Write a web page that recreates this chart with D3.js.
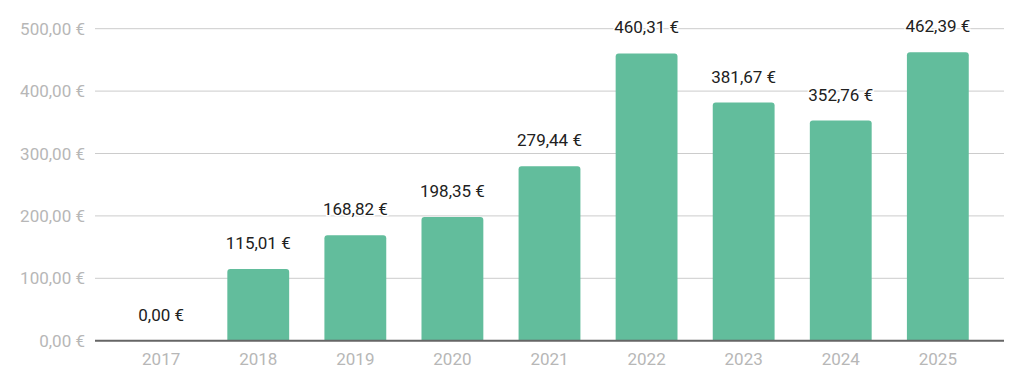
<!DOCTYPE html>
<html><head><meta charset="utf-8">
<script src="https://cdn.jsdelivr.net/npm/d3@7"></script>
<style>html,body{margin:0;padding:0;background:#fff;}svg{display:block;font-family:Roboto,"Noto Sans",sans-serif;}</style>
</head><body><svg id="c" width="1024" height="387"></svg>
<script>
const categories = ["2017","2018","2019","2020","2021","2022","2023","2024","2025"];
const values = [0.00,115.01,168.82,198.35,279.44,460.31,381.67,352.76,462.39];
const yTicks = [0,100,200,300,400,500];

(function(){
const svg = d3.select("#c");
const mLeft = 95, mRight = 1004, mTop = 28.7, mBottom = 340.7;
const fmt = v => d3.format(",.2f")(v).replace(/,/g," ").replace(".",",") + " €";

const x = d3.scaleBand().domain(categories).range([mLeft,mRight]).paddingInner(0.363).paddingOuter(0.363);
const y = d3.scaleLinear().domain([0,500]).range([mBottom,mTop]);

svg.append("g").selectAll("line").data(yTicks.filter(d=>d>0)).join("line")
  .attr("x1",mLeft).attr("x2",mRight).attr("y1",d=>y(d)).attr("y2",d=>y(d))
  .attr("stroke","#cccccc").attr("stroke-width",1);

svg.append("g").selectAll("text").data(yTicks).join("text")
  .attr("x",85).attr("y",d=>y(d)+6).attr("text-anchor","end")
  .attr("fill","#b7b7b7").attr("font-size",17).text(d=>fmt(d));

const r = 3;
svg.append("g").selectAll("path").data(values).join("path")
  .attr("fill","#62bd9c")
  .attr("d",(d,i)=>{
    const x0 = x(categories[i]), w = x.bandwidth(), y0 = y(d), h = y(0)-y(d);
    if (h <= 0) return "";
    const rr = Math.min(r,h);
    return `M${x0},${y(0)}V${y0+rr}Q${x0},${y0} ${x0+rr},${y0}H${x0+w-rr}Q${x0+w},${y0} ${x0+w},${y0+rr}V${y(0)}Z`;
  });

svg.append("line").attr("x1",mLeft).attr("x2",mRight).attr("y1",y(0)).attr("y2",y(0))
  .attr("stroke","#666666").attr("stroke-width",2);

svg.append("g").selectAll("text").data(categories).join("text")
  .attr("x",d=>x(d)+x.bandwidth()/2).attr("y",365).attr("text-anchor","middle")
  .attr("fill","#b7b7b7").attr("font-size",17).text(d=>d);

svg.append("g").selectAll("text").data(values).join("text")
  .attr("x",(d,i)=>x(categories[i])+x.bandwidth()/2).attr("y",d=>y(d)-20)
  .attr("text-anchor","middle").attr("fill","#212121").attr("font-size",17)
  .attr("stroke","#ffffff").attr("stroke-width",3).attr("paint-order","stroke")
  .text(d=>fmt(d));
})();
</script></body></html>
